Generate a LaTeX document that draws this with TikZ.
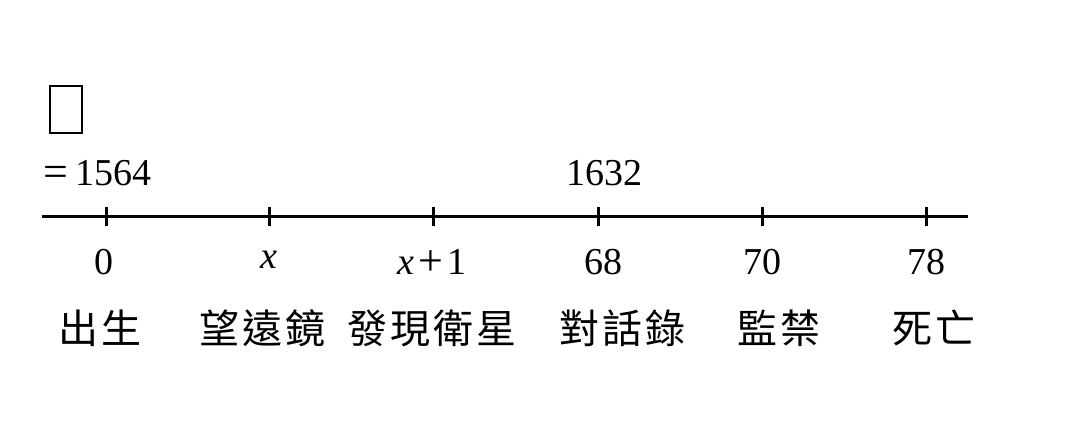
\documentclass[tikz,border=0pt]{standalone}
\usepackage{fontspec}
\setmainfont{Liberation Serif}
\newfontfamily\cjk{Noto Sans CJK TC}
\newcommand\cjkgap{\hspace{3pt}}
\newcommand\bigsym[1]{{\fontsize{44}{48}\selectfont\raisebox{-1pt}{#1}}}
\begin{document}
\begin{tikzpicture}[x=1pt,y=-1pt,
  num/.style={font=\fontsize{38}{44}\selectfont, inner sep=0pt},
  lab/.style={font=\cjk\fontsize{40}{48}\selectfont, inner sep=0pt},
  axisline/.style={line width=3pt},
  tickmark/.style={line width=3pt},
  glyphbox/.style={draw, line width=1.6pt, minimum width=32pt, minimum height=47pt, inner sep=0pt}]
\useasboundingbox (0,0) rectangle (1075,424);
% missing-glyph box
\node[glyphbox] (gbox) at (66,109.5) {};
% axis
\coordinate (a0) at (42,216);
\coordinate (a1) at (968,216);
\draw[axisline] (a0) -- (a1);
\foreach \n/\x in {0/106,1/269,2/433,3/598,4/762,5/926}{
  \coordinate (t\n) at (\x,216);
  \draw[tickmark] ([yshift=9pt]t\n) -- ([yshift=-10pt]t\n);
}
% top labels
\node[num, anchor=base west] (y0) at (43,185) {\bigsym{=}\hspace{7pt}1564};
\node[num, anchor=base] (y1) at (604,185) {1632};
% numbers
\node[num] (n0) at (104,262) {0};
\node[num] (n1) at (268.5,260) {\itshape x};
\node[num] (n2) at (432,262) {{\itshape x}\hspace{4pt}\bigsym{+}\hspace{4pt}1};
\node[num] (n3) at (603.5,262) {68};
\node[num] (n4) at (762.5,262) {70};
\node[num] (n5) at (926.5,262) {78};
% events
\node[lab] (e0) at (100,328) {出\cjkgap 生};
\node[lab] (e1) at (262,328) {望\cjkgap 遠\cjkgap 鏡};
\node[lab] (e2) at (432,328) {發\cjkgap 現\cjkgap 衛\cjkgap 星};
\node[lab] (e3) at (622,328) {對\cjkgap 話\cjkgap 錄};
\node[lab] (e4) at (779,328) {監\cjkgap 禁};
\node[lab] (e5) at (934,328) {死\cjkgap 亡};
\end{tikzpicture}
\end{document}
